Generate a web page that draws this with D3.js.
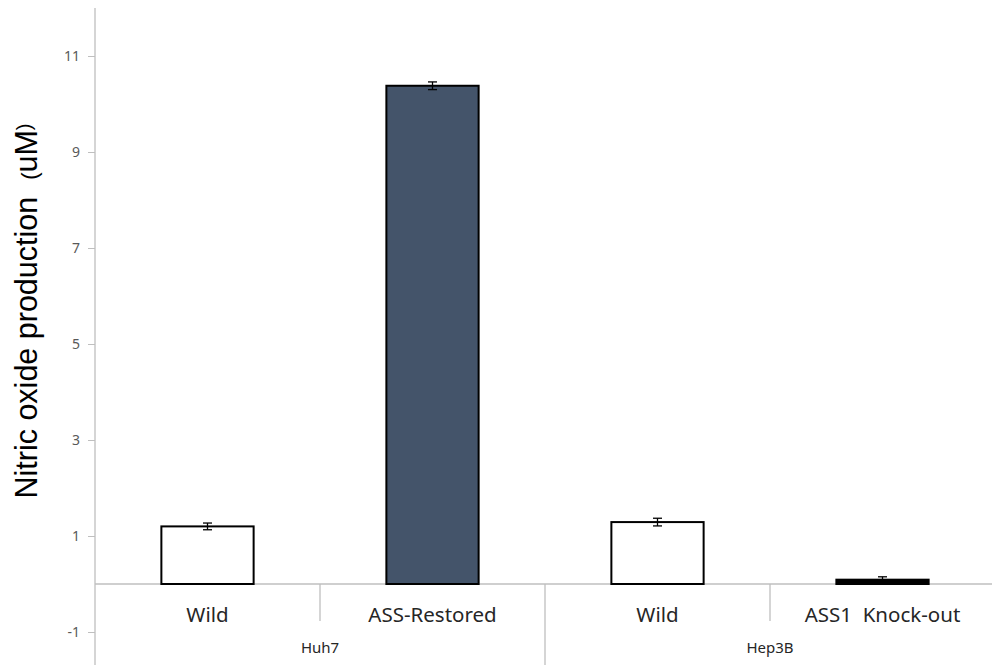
<!DOCTYPE html>
<html>
<head>
<meta charset="utf-8">
<script src="https://cdn.jsdelivr.net/npm/d3@7"></script>
<style>
  html, body { margin: 0; padding: 0; background: #fff; }
  svg { display: block; }
</style>
</head>
<body>
<svg id="chart" width="992" height="665"></svg>
<script>
// Nitric oxide production by cell line and condition
const groups = ["Huh7", "Huh7", "Hep3B", "Hep3B"];
const categories = ["Wild", "ASS-Restored", "Wild", "ASS1  Knock-out"];
const values = [1.20, 10.38, 1.29, 0.09];
const errors = [0.07, 0.08, 0.08, 0.06];
const fills = ["#ffffff", "#44546a", "#ffffff", "#000000"];
const yTicks = [-1, 1, 3, 5, 7, 9, 11];

const svg = d3.select("#chart");
const plotLeft = 95, plotRight = 995, plotTop = 8, plotBottom = 665;
const labelFont = "'Noto Sans', 'Open Sans', sans-serif";

const y = d3.scaleLinear().domain([-1.5, 12]).range([656, plotTop]);
const keys = categories.map((c, i) => i);
const x = d3.scaleBand().domain(keys).range([plotLeft, plotRight]).paddingInner(0).paddingOuter(0);
const barW = x.bandwidth() * 0.41;

const axisColor = "#bfbfbf";

// y axis
const yAxis = d3.axisLeft(y).tickValues(yTicks).tickSize(7).tickPadding(8).tickFormat(d => String(d));
const gy = svg.append("g").attr("transform", `translate(${plotLeft},0)`).call(yAxis);
gy.select(".domain").remove();
gy.selectAll(".tick line").attr("stroke", axisColor);
gy.selectAll(".tick text")
  .attr("fill", "#595959")
  .style("font-family", labelFont)
  .style("font-size", "14px");
svg.append("line")
  .attr("x1", plotLeft).attr("x2", plotLeft)
  .attr("y1", plotTop).attr("y2", plotBottom)
  .attr("stroke", axisColor).attr("stroke-width", 1.3);

// zero baseline
svg.append("line")
  .attr("x1", plotLeft).attr("x2", plotRight)
  .attr("y1", y(0)).attr("y2", y(0))
  .attr("stroke", axisColor).attr("stroke-width", 1.3);

// category dividers (inner short, group boundary long)
keys.slice(1).forEach(i => {
  const gx = x(i);
  const isGroupEdge = groups[i] !== groups[i - 1];
  svg.append("line")
    .attr("x1", gx).attr("x2", gx)
    .attr("y1", y(0)).attr("y2", isGroupEdge ? plotBottom : y(0) + 37)
    .attr("stroke", axisColor).attr("stroke-width", 1.3);
});

// bars
svg.selectAll("rect.bar")
  .data(keys)
  .join("rect")
  .attr("class", "bar")
  .attr("x", i => x(i) + (x.bandwidth() - barW) / 2)
  .attr("width", barW)
  .attr("y", i => y(values[i]))
  .attr("height", i => y(0) - y(values[i]))
  .attr("fill", i => fills[i])
  .attr("stroke", "#000")
  .attr("stroke-width", 2);

// error bars
const cap = 4.5;
const eb = svg.append("g").attr("stroke", "#000").attr("stroke-width", 1.3);
keys.forEach(i => {
  const cx = x(i) + x.bandwidth() / 2;
  const y1 = y(values[i] + errors[i]);
  const y2 = y(values[i] - errors[i]);
  eb.append("line").attr("x1", cx).attr("x2", cx).attr("y1", y1).attr("y2", y2);
  eb.append("line").attr("x1", cx - cap).attr("x2", cx + cap).attr("y1", y1).attr("y2", y1);
  if (values[i] - errors[i] > 0.05)
    eb.append("line").attr("x1", cx - cap).attr("x2", cx + cap).attr("y1", y2).attr("y2", y2);
});

// category labels
svg.selectAll("text.cat")
  .data(keys)
  .join("text")
  .attr("class", "cat")
  .attr("x", i => x(i) + x.bandwidth() / 2)
  .attr("y", y(0) + 38)
  .attr("text-anchor", "middle")
  .attr("fill", "#262626")
  .style("font-family", labelFont)
  .style("font-size", "20.5px")
  .style("white-space", "pre")
  .text(i => categories[i]);

// group labels
const groupNames = Array.from(new Set(groups));
groupNames.forEach(g => {
  const idx = keys.filter(i => groups[i] === g);
  const gx0 = x(idx[0]);
  const gx1 = x(idx[idx.length - 1]) + x.bandwidth();
  svg.append("text")
    .attr("x", (gx0 + gx1) / 2)
    .attr("y", y(0) + 69)
    .attr("text-anchor", "middle")
    .attr("fill", "#262626")
    .style("font-family", labelFont)
    .style("font-size", "15px")
    .text(g);
});

// y axis title, with smaller parentheses around the unit
const title = svg.append("text")
  .attr("transform", "translate(37,311) rotate(-90)")
  .attr("text-anchor", "middle")
  .attr("fill", "#000")
  .style("font-family", "'Liberation Sans', Arial, sans-serif")
  .style("font-size", "30.5px")
  .style("white-space", "pre");
title.append("tspan").text("Nitric oxide production  ");
title.append("tspan").style("font-size", "22px").text("(");
title.append("tspan").text("uM");
title.append("tspan").style("font-size", "20px").attr("dy", -6).text(")");
</script>
</body>
</html>
